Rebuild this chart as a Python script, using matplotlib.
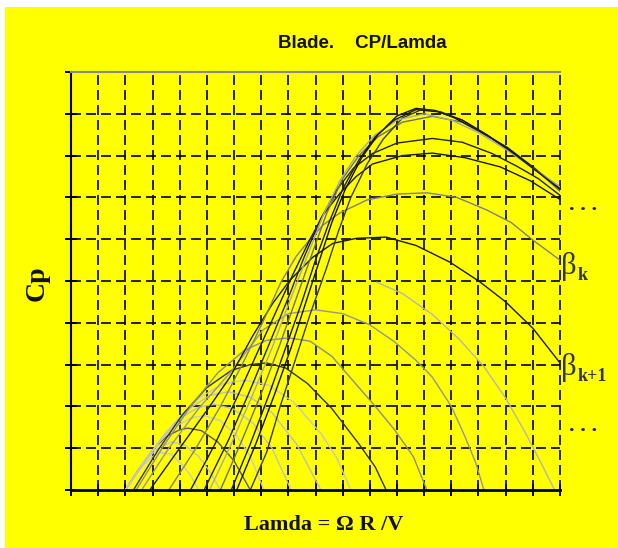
import matplotlib
matplotlib.use("Agg")
import matplotlib.pyplot as plt
from matplotlib.patches import Rectangle

plt.rcParams['lines.scale_dashes'] = False

# ---------------- data (grid units: lambda 0..18, Cp 0..10) ----------------
c01_x = [2.0, 2.3, 2.7, 3.0, 3.3, 3.7, 4.1, 4.4, 4.7]
c01_y = [0.0, 0.3, 0.62, 0.8, 0.9, 0.85, 0.6, 0.35, 0.0]
c02_x = [2.0, 2.4, 2.8, 3.2, 3.7, 4.2, 4.7, 5.1, 5.5]
c02_y = [0.0, 0.4, 0.75, 1.0, 1.15, 1.07, 0.8, 0.45, 0.0]
c03_x = [2.0, 2.5, 3.0, 3.5, 4.0, 4.3, 4.8, 5.4, 6.0, 6.6]
c03_y = [0.0, 0.5, 0.95, 1.28, 1.44, 1.48, 1.42, 1.15, 0.7, 0.0]
c04_x = [2.0, 2.6, 3.2, 3.8, 4.4, 4.9, 5.5, 6.1, 6.6, 7.1]
c04_y = [0.0, 0.6, 1.12, 1.5, 1.72, 1.78, 1.66, 1.3, 0.8, 0.0]
c05_x = [2.0, 2.7, 3.4, 4.1, 4.7, 5.3, 6.0, 6.7, 7.4, 8.1]
c05_y = [0.0, 0.68, 1.3, 1.75, 1.98, 2.05, 1.93, 1.6, 1.0, 0.0]
c06_x = [2.0, 2.8, 3.6, 4.4, 5.1, 5.8, 6.6, 7.4, 8.3, 9.2]
c06_y = [0.0, 0.75, 1.45, 1.97, 2.26, 2.35, 2.22, 1.85, 1.1, 0.0]
c07_x = [2.0, 2.9, 3.8, 4.7, 5.6, 6.4, 7.3, 8.2, 9.2, 9.8, 10.3]
c07_y = [0.0, 0.85, 1.6, 2.2, 2.54, 2.63, 2.5, 2.1, 1.35, 0.75, 0.0]
c08_x = [2.3, 3.2, 4.1, 5.0, 5.9, 6.6, 7.2, 7.9, 8.7, 9.6, 10.6, 11.2, 11.6]
c08_y = [0.0, 0.95, 1.8, 2.45, 2.86, 3.0, 3.04, 2.92, 2.55, 1.95, 1.1, 0.55, 0.0]
c09_x = [2.4, 3.4, 4.4, 5.4, 6.4, 7.2, 8.0, 8.8, 9.6, 10.4, 11.2, 11.9, 12.6, 13.1]
c09_y = [0.0, 1.05, 2.0, 2.8, 3.35, 3.58, 3.64, 3.56, 3.2, 2.6, 2.0, 1.45, 0.8, 0.0]
c10_x = [2.6, 3.6, 4.7, 5.85, 7.07, 8.0, 9.0, 10.0, 11.0, 11.9, 12.7, 13.3, 14.0, 14.5, 14.9, 15.2]
c10_y = [0.0, 1.0, 1.95, 2.8, 3.83, 4.22, 4.31, 4.22, 3.95, 3.55, 3.1, 2.7, 2.0, 1.28, 0.65, 0.0]
c11_x = [11.26, 12.2, 13.3, 14.3, 15.2, 16.0, 16.8, 17.3, 17.8]
c11_y = [4.97, 4.7, 4.2, 3.6, 2.95, 2.2, 1.28, 0.65, 0.0]
c12_x = [2.9, 4.0, 5.0, 5.85, 6.7, 7.43, 8.06, 8.9, 9.64, 10.5, 11.6, 12.7, 13.95, 15.05, 16.0, 17.0, 18.0]
c12_y = [0.0, 1.0, 1.9, 2.7, 3.7, 4.47, 5.02, 5.57, 5.9, 6.02, 6.05, 5.85, 5.45, 4.98, 4.5, 3.87, 3.04]
c13_x = [3.6, 4.6, 5.5, 6.3, 7.05, 7.75, 8.3, 8.8, 9.3, 9.9, 10.9, 12.0, 13.1, 14.2, 15.3, 16.2, 17.0, 18.0]
c13_y = [0.0, 1.0, 2.0, 3.0, 4.0, 5.0, 5.6, 6.0, 6.35, 6.63, 6.94, 7.08, 7.11, 7.0, 6.7, 6.4, 5.98, 5.5]
c14_x = [4.4, 5.3, 6.1, 6.8, 7.5, 8.2, 8.8, 9.3, 9.9, 10.5, 11.1, 12.2, 13.3, 14.5, 15.8, 16.9, 18.0]
c14_y = [0.0, 1.1, 2.2, 3.2, 4.2, 5.2, 6.0, 6.6, 7.1, 7.5, 7.8, 8.0, 8.06, 7.95, 7.73, 7.4, 6.95]
c15_x = [4.9, 5.8, 6.6, 7.3, 8.0, 8.6, 9.2, 9.8, 10.4, 11.1, 12.0, 13.3, 14.4, 15.5, 16.4, 17.2, 18.0]
c15_y = [0.0, 1.2, 2.4, 3.5, 4.6, 5.6, 6.5, 7.2, 7.7, 8.05, 8.3, 8.41, 8.32, 8.05, 7.75, 7.45, 7.05]
c16_x = [5.5, 6.3, 7.0, 7.7, 8.3, 8.9, 9.4, 10.0, 10.6, 11.3, 12.2, 13.3, 14.4, 15.5, 16.5, 17.3, 18.0]
c16_y = [0.0, 1.2, 2.3, 3.5, 4.6, 5.7, 6.6, 7.45, 8.0, 8.45, 8.8, 8.94, 8.8, 8.4, 7.95, 7.55, 7.15]
c17_x = [6.1, 6.8, 7.5, 8.1, 8.65, 9.15, 9.6, 10.1, 10.7, 11.3, 12.0, 12.7, 13.4, 14.06, 15.0, 16.05, 17.0, 18.0]
c17_y = [0.0, 1.1, 2.3, 3.4, 4.5, 5.5, 6.4, 7.2, 7.95, 8.5, 8.95, 9.13, 9.08, 8.92, 8.6, 8.2, 7.73, 7.2]
c18_x = [6.6, 7.2, 7.7, 8.2, 8.8, 9.4, 9.85, 10.3, 10.9, 11.5, 12.2, 12.9, 13.6, 14.4, 15.3, 16.2, 17.1, 18.0]
c18_y = [0.0, 0.9, 2.0, 3.0, 4.2, 5.3, 6.2, 7.0, 7.8, 8.4, 8.9, 9.1, 9.05, 8.85, 8.5, 8.1, 7.65, 7.25]
c19_x = [5.1, 5.9, 6.7, 7.4, 8.1, 8.7, 9.3, 9.9, 10.5, 11.2, 12.0, 13.0, 14.0, 15.0, 16.0, 17.0, 18.0]
c19_y = [0.0, 1.1, 2.3, 3.4, 4.6, 5.6, 6.6, 7.4, 8.0, 8.5, 8.85, 9.0, 8.85, 8.55, 8.15, 7.7, 7.25]
c20_x = [5.9, 6.6, 7.3, 7.9, 8.5, 9.0, 9.5, 10.0, 10.6, 11.2, 11.9, 12.7, 13.5, 14.4, 15.3, 16.2, 17.1, 18.0]
c20_y = [0.0, 1.1, 2.3, 3.4, 4.5, 5.5, 6.4, 7.2, 7.9, 8.45, 8.85, 9.1, 9.05, 8.85, 8.5, 8.1, 7.65, 7.2]

curve_colors = ['#c8c8c8', '#c4c4c4', '#5a5a5a', '#c8c8c8', '#c0c0c0', '#bdbdbd', '#c6c6c6',
                '#333333', '#8c8c8c', '#959595', '#b5b5b5', '#1a1a1a', '#808080', '#1a1a1a',
                '#222222', '#6e6e6e', '#111111', '#3a3a3a', '#a8a8a8', '#1a1a1a']

x_ticks = list(range(0, 19))
y_ticks = list(range(0, 11))

title_text = 'Blade.    CP/Lamda'
xlabel_text = 'Lamda = \u03a9 R /V'
ylabel_text = 'Cp'
beta_subs = ['k', 'k+1']

curves = [(c01_x, c01_y), (c02_x, c02_y), (c03_x, c03_y), (c04_x, c04_y), (c05_x, c05_y),
          (c06_x, c06_y), (c07_x, c07_y), (c08_x, c08_y), (c09_x, c09_y), (c10_x, c10_y),
          (c11_x, c11_y), (c12_x, c12_y), (c13_x, c13_y), (c14_x, c14_y), (c15_x, c15_y),
          (c16_x, c16_y), (c17_x, c17_y), (c18_x, c18_y), (c19_x, c19_y), (c20_x, c20_y)]

# ---------------- figure ----------------
W, H = 618, 548
fig = plt.figure(figsize=(W / 100, H / 100), dpi=100)
fig.patch.set_facecolor('white')
fig.patches.append(Rectangle((5 / W, -0.02), 1.0, 1.02 - 7 / H, transform=fig.transFigure,
                             facecolor='#ffff00', edgecolor='none', zorder=-10))

ax = fig.add_axes([71 / W, 58 / H, 489 / W, 418 / H])
ax.set_facecolor('#ffff00')
ax.set_xlim(x_ticks[0], x_ticks[-1])
ax.set_ylim(y_ticks[0], y_ticks[-1])

dash = (0, (7.2, 3.6))
for xv in x_ticks[1:]:
    ax.axvline(xv, color='black', lw=1.2, linestyle=dash, zorder=1, clip_on=False)
for yv in y_ticks[1:-1]:
    ax.axhline(yv, color='black', lw=1.2, linestyle=dash, zorder=1)

for (xs, ys), col in zip(curves, curve_colors):
    ax.plot(xs, ys, color=col, lw=1.0, zorder=2, solid_joinstyle='round')

ax.set_xticks(x_ticks)
ax.set_yticks(y_ticks)
ax.set_xticklabels([])
ax.set_yticklabels([])
ax.tick_params(direction='inout', length=8, width=1.4, color='black')
ax.spines['right'].set_visible(False)
ax.spines['top'].set_color('#8a8a8a')
ax.spines['top'].set_linewidth(1.5)
ax.spines['left'].set_color('black')
ax.spines['left'].set_linewidth(1.5)
ax.spines['bottom'].set_color('black')
ax.spines['bottom'].set_linewidth(2.0)

fig.text(362 / W, 1 - 44 / H, title_text, ha='center', va='center', fontsize=13.5,
         fontweight='bold', family='Liberation Sans', color='#111111')
fig.text(324 / W, 1 - 525 / H, xlabel_text, ha='center', va='center', fontsize=16,
         fontweight='bold', family='Liberation Serif', color='#111111')
fig.text(37 / W, 1 - 283 / H, ylabel_text, ha='center', va='center', fontsize=20,
         fontweight='bold', family='Liberation Serif', rotation=90, color='#111111')

# dots
for py in (210, 431):
    fig.text(569 / W, 1 - py / H, '. . .', ha='left', va='baseline', fontsize=16,
             fontweight='bold', family='Liberation Serif', color='#222222')
# beta labels
for sub, py in zip(beta_subs, (266, 367)):
    fig.text(561 / W, 1 - (py + 8) / H, '\u03b2', ha='left', va='baseline', fontsize=22,
             family='Liberation Serif', color='#333333')
    fig.text(578 / W, 1 - (py + 14) / H, sub, ha='left', va='baseline', fontsize=13,
             fontweight='bold', family='Liberation Serif', color='#333333')

fig.savefig('out.png', dpi=100, facecolor=fig.get_facecolor())
